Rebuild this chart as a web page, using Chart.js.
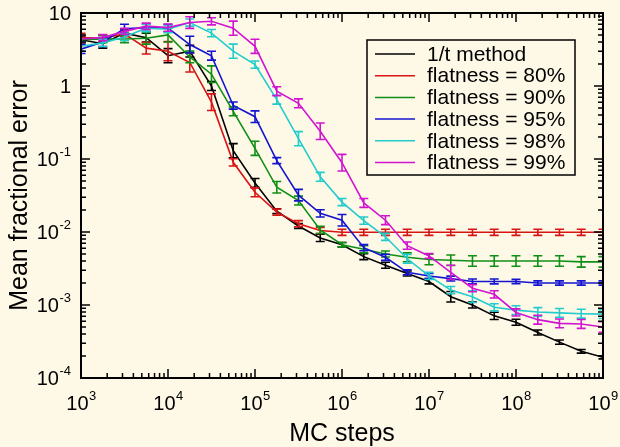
<!DOCTYPE html>
<html>
<head>
<meta charset="utf-8">
<script src="https://cdn.jsdelivr.net/npm/chart.js@4.4.1/dist/chart.umd.min.js"></script>
<style>
  html, body { margin: 0; padding: 0; background: #fef9e7; }
  #wrap { width: 620px; height: 447px; }
</style>
</head>
<body>
<div id="wrap"><canvas id="chart" width="620" height="447"></canvas></div>
<script>
// MC steps, 4 points per decade
const steps = [1e3, 1.78e3, 3.16e3, 5.62e3, 1e4, 1.78e4, 3.16e4, 5.62e4, 1e5, 1.78e5, 3.16e5, 5.62e5,
  1e6, 1.78e6, 3.16e6, 5.62e6, 1e7, 1.78e7, 3.16e7, 5.62e7, 1e8, 1.78e8, 3.16e8, 5.62e8, 1e9];

const seriesNames = ['1/t method', 'flatness = 80%', 'flatness = 90%', 'flatness = 95%', 'flatness = 98%', 'flatness = 99%'];
const seriesColors = ['#000000', '#d81414', '#0f8f16', '#1414d0', '#22cccc', '#d014d0'];

const errOneOverT = [4.3, 3.8, 5.3, 4.6, 2.6, 3.0, 1.0, 0.13, 0.047, 0.0193, 0.0121, 0.0083, 0.0067, 0.0046, 0.0035,
  0.0027, 0.0021, 0.0013, 0.00100, 0.00071, 0.00058, 0.00042, 0.00031, 0.000232, 0.000192];
const errFlat80 = [4.6, 4.5, 5.2, 3.3, 3.0, 2.1, 0.6, 0.09, 0.035, 0.0187, 0.013, 0.0105, 0.0099, 0.0099, 0.0099,
  0.0099, 0.0099, 0.0099, 0.0099, 0.0099, 0.0099, 0.0099, 0.0099, 0.0099, 0.0099];
const errFlat90 = [4.3, 4.4, 4.4, 4.5, 5.0, 2.5, 1.45, 0.45, 0.14, 0.041, 0.027, 0.0107, 0.0067, 0.0058, 0.0050,
  0.0045, 0.0042, 0.0041, 0.0040, 0.0040, 0.0040, 0.0040, 0.0040, 0.0039, 0.0039];
const errFlat95 = [3.2, 4.0, 6.1, 6.3, 6.2, 3.7, 2.6, 0.54, 0.38, 0.095, 0.032, 0.018, 0.0145, 0.0061, 0.0045,
  0.0028, 0.0025, 0.0023, 0.0021, 0.0021, 0.0021, 0.0020, 0.0020, 0.0020, 0.0020];
const errFlat98 = [3.5, 3.9, 4.7, 6.2, 6.0, 7.4, 5.3, 3.0, 1.96, 0.65, 0.19, 0.057, 0.0257, 0.0143, 0.0086,
  0.0043, 0.0025, 0.0016, 0.0013, 0.00093, 0.00085, 0.00080, 0.00078, 0.00076, 0.00075];
const errFlat99 = [4.4, 4.6, 5.6, 6.6, 6.3, 7.4, 7.7, 6.2, 3.5, 0.85, 0.58, 0.24, 0.089, 0.025, 0.0145,
  0.0065, 0.0047, 0.0028, 0.0017, 0.0014, 0.00079, 0.00063, 0.00056, 0.00055, 0.00050];

// relative half-size of the error bars
const barOneOverT = [0.12, 0.15, 0.1, 0.15, 0.25, 0.2, 0.15, 0.25, 0.15, 0.08, 0.08, 0.12, 0.07, 0.1, 0.1,
  0.08, 0.08, 0.18, 0.1, 0.12, 0.1, 0.08, 0.07, 0.06, 0.05];
const barFlat80 = [0.15, 0.12, 0.1, 0.2, 0.35, 0.35, 0.3, 0.12, 0.15, 0.1, 0.1, 0.1, 0.1, 0.1, 0.1,
  0.1, 0.1, 0.1, 0.1, 0.1, 0.1, 0.1, 0.1, 0.1, 0.1];
const barFlat90 = [0.15, 0.12, 0.12, 0.2, 0.25, 0.2, 0.3, 0.15, 0.25, 0.2, 0.15, 0.12, 0.07, 0.12, 0.1,
  0.15, 0.18, 0.18, 0.18, 0.18, 0.18, 0.18, 0.18, 0.18, 0.18];
const barFlat95 = [0.15, 0.15, 0.15, 0.12, 0.12, 0.3, 0.15, 0.12, 0.2, 0.1, 0.2, 0.12, 0.2, 0.1, 0.1,
  0.08, 0.08, 0.08, 0.08, 0.08, 0.07, 0.07, 0.07, 0.07, 0.07];
const barFlat98 = [0.15, 0.12, 0.12, 0.12, 0.12, 0.12, 0.12, 0.25, 0.12, 0.15, 0.25, 0.15, 0.12, 0.12, 0.12,
  0.15, 0.12, 0.12, 0.2, 0.12, 0.15, 0.15, 0.15, 0.15, 0.15];
const barFlat99 = [0.12, 0.1, 0.1, 0.1, 0.12, 0.2, 0.12, 0.25, 0.25, 0.15, 0.15, 0.3, 0.3, 0.15, 0.15,
  0.12, 0.08, 0.25, 0.12, 0.12, 0.12, 0.15, 0.15, 0.15, 0.18];

const seriesValues = [errOneOverT, errFlat80, errFlat90, errFlat95, errFlat98, errFlat99];
const seriesBars = [barOneOverT, barFlat80, barFlat90, barFlat95, barFlat98, barFlat99];

const xDecades = [3, 4, 5, 6, 7, 8, 9];
const yDecades = [-4, -3, -2, -1, 0, 1];

const FONT = '"Liberation Sans", Arial, Helvetica, sans-serif';
const BG = '#fef9e7';

// --- Error bars drawn right after each dataset ---
const errorBars = {
    id: 'errorBars',
    afterDatasetDraw(chart, args) {
        const ds = chart.data.datasets[args.index];
        const meta = args.meta;
        const yScale = chart.scales.y;
        const ctx = chart.ctx;
        const a = chart.chartArea;
        ctx.save();
        ctx.strokeStyle = ds.borderColor;
        ctx.lineWidth = 1.6;
        meta.data.forEach((pt, i) => {
            const v = ds.data[i].y;
            const e = ds.bars[i];
            const yTop = yScale.getPixelForValue(v * (1 + e));
            const yBot = yScale.getPixelForValue(v / (1 + e));
            const x = pt.x;
            const l = Math.max(x - 4.5, a.left), r = Math.min(x + 4.5, a.right);
            ctx.beginPath();
            ctx.moveTo(x, yTop); ctx.lineTo(x, yBot);
            ctx.moveTo(l, yTop); ctx.lineTo(r, yTop);
            ctx.moveTo(l, yBot); ctx.lineTo(r, yBot);
            ctx.stroke();
        });
        ctx.restore();
    }
};

// --- Background, frame, inward ticks, labels, legend ---
const frame = {
    id: 'frame',
    beforeDraw(chart) {
        const ctx = chart.ctx;
        ctx.save();
        ctx.fillStyle = BG;
        ctx.fillRect(0, 0, chart.width, chart.height);
        ctx.restore();
    },
    afterDraw(chart) {
        const ctx = chart.ctx;
        const a = chart.chartArea;
        const xs = chart.scales.x, ys = chart.scales.y;
        ctx.save();

        // ticks, on all four sides, pointing in
        ctx.strokeStyle = '#000';
        ctx.lineWidth = 1.5;
        ctx.beginPath();
        for (let d = 3; d <= 9; d++) {
            for (let m = 1; m <= 9; m++) {
                const v = m * Math.pow(10, d);
                if (v > 1e9) break;
                const px = xs.getPixelForValue(v);
                const len = m === 1 ? 9 : 5;
                ctx.moveTo(px, a.bottom); ctx.lineTo(px, a.bottom - len);
                ctx.moveTo(px, a.top); ctx.lineTo(px, a.top + len);
            }
        }
        for (let d = -4; d <= 1; d++) {
            for (let m = 1; m <= 9; m++) {
                const v = m * Math.pow(10, d);
                if (v > 10) break;
                const py = ys.getPixelForValue(v);
                const len = m === 1 ? 9 : 5;
                ctx.moveTo(a.left, py); ctx.lineTo(a.left + len, py);
                ctx.moveTo(a.right, py); ctx.lineTo(a.right - len, py);
            }
        }
        ctx.stroke();

        // frame
        ctx.lineWidth = 2;
        ctx.strokeRect(a.left, a.top, a.right - a.left, a.bottom - a.top);

        // tick labels
        ctx.fillStyle = '#000';
        ctx.textBaseline = 'middle';
        const baseFont = '20px ' + FONT;
        const supFont = '13px ' + FONT;

        xDecades.forEach(d => {
            const px = xs.getPixelForValue(Math.pow(10, d));
            ctx.font = baseFont;
            const wb = ctx.measureText('10').width;
            ctx.font = supFont;
            const ws = ctx.measureText(String(d)).width;
            const x0 = px - (wb + ws) / 2;
            ctx.textAlign = 'left';
            ctx.font = baseFont;
            ctx.fillText('10', x0, 404);
            ctx.font = supFont;
            ctx.fillText(String(d), x0 + wb + 0.5, 396);
        });

        const yRight = a.left - 10;
        yDecades.forEach(d => {
            const py = ys.getPixelForValue(Math.pow(10, d));
            ctx.textAlign = 'right';
            if (d === 0) {
                ctx.font = baseFont;
                ctx.fillText('1', yRight, py + 1);
            } else if (d === 1) {
                ctx.font = baseFont;
                ctx.fillText('10', yRight, py + 1);
            } else {
                ctx.font = supFont;
                const ws = ctx.measureText(String(d)).width;
                ctx.fillText(String(d), yRight, py - 7);
                ctx.font = baseFont;
                ctx.fillText('10', yRight - ws - 0.5, py + 1);
            }
        });

        // axis titles
        ctx.font = '25px ' + FONT;
        ctx.textAlign = 'center';
        ctx.fillText('MC steps', (a.left + a.right) / 2, 434);
        ctx.save();
        ctx.translate(20, (a.top + a.bottom) / 2);
        ctx.rotate(-Math.PI / 2);
        ctx.fillText('Mean fractional error', 0, 0);
        ctx.restore();

        // legend
        const lx = 367, ly = 40, lw = 208, lh = 135;
        ctx.fillStyle = BG;
        ctx.fillRect(lx, ly, lw, lh);
        ctx.lineWidth = 1.5;
        ctx.strokeStyle = '#000';
        ctx.strokeRect(lx, ly, lw, lh);
        ctx.font = '21px ' + FONT;
        ctx.textAlign = 'left';
        chart.data.datasets.forEach((ds, i) => {
            const ry = 54 + i * 21.7;
            ctx.strokeStyle = ds.borderColor;
            ctx.lineWidth = 1.5;
            ctx.beginPath();
            ctx.moveTo(375, ry); ctx.lineTo(415, ry);
            ctx.stroke();
            ctx.fillStyle = '#000';
            ctx.fillText(ds.label, 427, ry + 1);
        });
        ctx.restore();
    }
};

const datasets = seriesNames.map((name, i) => ({
    label: name,
    data: steps.map((s, j) => ({ x: s, y: seriesValues[i][j] })),
    bars: seriesBars[i],
    borderColor: seriesColors[i],
    borderWidth: 1.6,
    pointRadius: 0,
    tension: 0,
    fill: false,
    order: 5 - i
}));

new Chart(document.getElementById('chart'), {
    type: 'line',
    data: { datasets },
    options: {
        responsive: false,
        animation: false,
        events: [],
        layout: { padding: { left: 81, right: 17, top: 13, bottom: 69 } },
        plugins: { legend: { display: false }, tooltip: { enabled: false } },
        scales: {
            x: {
                type: 'logarithmic', min: 1e3, max: 1e9,
                ticks: { display: false },
                grid: { display: false, drawTicks: false },
                border: { display: false }
            },
            y: {
                type: 'logarithmic', min: 1e-4, max: 10,
                ticks: { display: false },
                grid: { display: false, drawTicks: false },
                border: { display: false }
            }
        }
    },
    plugins: [errorBars, frame]
});
</script>
</body>
</html>
